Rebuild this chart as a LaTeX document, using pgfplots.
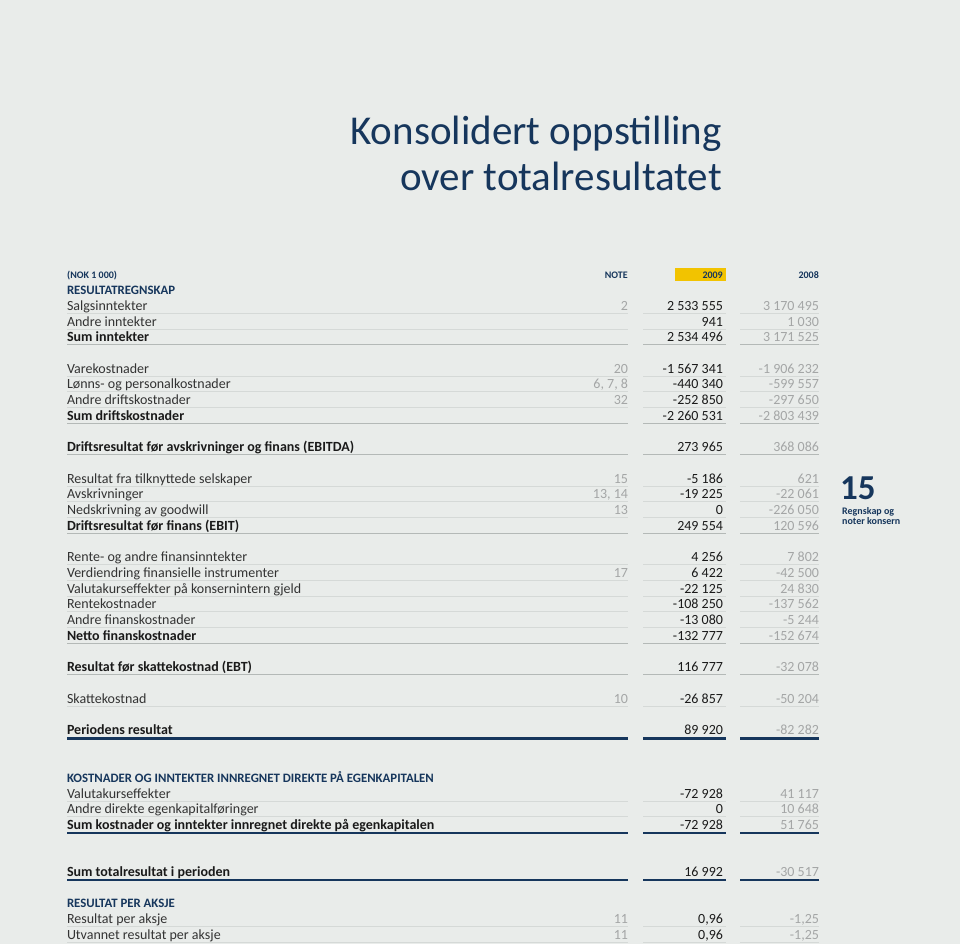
\documentclass[border=0pt]{standalone}
\usepackage{fontspec}
\setmainfont{Carlito}
\usepackage{pgfplots}
\usepackage{pgfplotstable}
\pgfplotsset{compat=1.18}
\definecolor{bg}{HTML}{E9ECEA}
\definecolor{navy}{HTML}{16365C}
\definecolor{txt}{HTML}{333333}
\definecolor{dk}{HTML}{1A1A1A}
\definecolor{lg}{HTML}{A4A6A6}
\definecolor{rulec}{HTML}{D5D9D7}
\definecolor{rule2}{HTML}{B4B9B7}
\definecolor{yel}{HTML}{F2C300}
\protected\def\sm{\color{dk}\bfseries\fontsize{14}{16}\selectfont}
\protected\def\hd{\color{navy}\bfseries\fontsize{12.8}{14}\selectfont}

\pgfplotstableread[col sep=semicolon]{
y;lab;note;a;b
294;\hd RESULTATREGNSKAP;;;
310;Salgsinntekter;2;2 533 555;3 170 495
326;Andre inntekter;;941;1 030
341;\sm Sum inntekter;;2 534 496;3 171 525
373;Varekostnader;20;-1 567 341;-1 906 232
388;Lønns- og personalkostnader;6, 7, 8;-440 340;-599 557
404;Andre driftskostnader;32;-252 850;-297 650
420;\sm Sum driftskostnader;;-2 260 531;-2 803 439
451;\sm Driftsresultat før avskrivninger og finans (EBITDA);;273 965;368 086
483;Resultat fra tilknyttede selskaper;15;-5 186;621
498;Avskrivninger;13, 14;-19 225;-22 061
514;Nedskrivning av goodwill;13;0;-226 050
530;\sm Driftsresultat før finans (EBIT);;249 554;120 596
561;Rente- og andre finansinntekter;;4 256;7 802
577;Verdiendring finansielle instrumenter;17;6 422;-42 500
593;Valutakurseffekter på konsernintern gjeld;;-22 125;24 830
608;Rentekostnader;;-108 250;-137 562
624;Andre finanskostnader;;-13 080;-5 244
640;\sm Netto finanskostnader;;-132 777;-152 674
671;\sm Resultat før skattekostnad (EBT);;116 777;-32 078
703;Skattekostnad;10;-26 857;-50 204
734;\sm Periodens resultat;;89 920;-82 282
782;\hd KOSTNADER OG INNTEKTER INNREGNET DIREKTE PÅ EGENKAPITALEN;;;
798;Valutakurseffekter;;-72 928;41 117
813;Andre direkte egenkapitalføringer;;0;10 648
829;\sm Sum kostnader og inntekter innregnet direkte på egenkapitalen;;-72 928;51 765
876;\sm Sum totalresultat i perioden;;16 992;-30 517
907;\hd RESULTAT PER AKSJE;;;
923;Resultat per aksje;11;0,96;-1,25
939;Utvannet resultat per aksje;11;0,96;-1,25
}\rows

\pgfplotsset{
  txtcol/.style 2 args={draw=none, mark=none, nodes near coords,
    point meta=explicit symbolic,
    every node near coord/.style={anchor=base #1, inner sep=0pt, outer sep=0pt,
      text=#2, font=\fontsize{14}{16}\selectfont}},
}

\begin{document}
\begin{tikzpicture}
\begin{axis}[
  scale only axis, width=960pt, height=944pt,
  xmin=0, xmax=960, ymin=0, ymax=944, y dir=reverse,
  hide axis, clip=false, unbounded coords=jump,
]
\fill[bg] (rel axis cs:0,0) rectangle (rel axis cs:1,1);

% title
\node[anchor=base east, inner sep=0pt, text=navy, font=\fontsize{41}{44}\selectfont] at (axis cs:722,145) {Konsolidert oppstilling};
\node[anchor=base east, inner sep=0pt, text=navy, font=\fontsize{41}{44}\selectfont] at (axis cs:722,190) {over totalresultatet};

% header row
\fill[yel] (axis cs:675,268) rectangle (axis cs:726,281);
\node[anchor=base west, inner sep=0pt, text=navy, font=\bfseries\fontsize{10}{12}\selectfont] at (axis cs:67,278) {(NOK 1 000)};
\node[anchor=base east, inner sep=0pt, text=navy, font=\bfseries\fontsize{10}{12}\selectfont] at (axis cs:628,278) {NOTE};
\node[anchor=base east, inner sep=0pt, text=navy, font=\bfseries\fontsize{10}{12}\selectfont] at (axis cs:723,278) {2009};
\node[anchor=base east, inner sep=0pt, text=navy, font=\bfseries\fontsize{10}{12}\selectfont] at (axis cs:819,278) {2008};

% side tab
\node[anchor=base west, inner sep=0pt, text=navy, font=\bfseries\fontsize{35}{36}\selectfont] at (axis cs:840,499) {15};
\node[anchor=base west, inner sep=0pt, text=navy, font=\bfseries\fontsize{10}{12}\selectfont] at (axis cs:842,514) {Regnskap og};
\node[anchor=base west, inner sep=0pt, text=navy, font=\bfseries\fontsize{10}{12}\selectfont] at (axis cs:842,524.5) {noter konsern};

% faint rules
\pgfplotsinvokeforeach{313.5,329.5,376.5,391.5,407.5,486.5,501.5,517.5,564.5,580.5,596.5,611.5,627.5,706.5,801.5,816.5,926.5,942.5}{
  \addplot[rulec, line width=0.6pt] coordinates {(67,#1)(628,#1)(nan,nan)(643,#1)(726,#1)(nan,nan)(740,#1)(819,#1)};
}
% sum rules
\pgfplotsinvokeforeach{344.5,423.5,454.5,533.5,643.5,674.5}{
  \addplot[rule2, line width=1.1pt] coordinates {(67,#1)(628,#1)(nan,nan)(643,#1)(726,#1)(nan,nan)(740,#1)(819,#1)};
}
% navy rules
\pgfplotsinvokeforeach{738.5,833,880}{
  \addplot[navy, line width=2.2pt] coordinates {(67,#1)(628,#1)(nan,nan)(643,#1)(726,#1)(nan,nan)(740,#1)(819,#1)};
}

% table text
\addplot[txtcol={west}{txt}] table[x expr=67, y=y, meta=lab] {\rows};
\addplot[txtcol={east}{lg}] table[x expr=628, y=y, meta=note] {\rows};
\addplot[txtcol={east}{dk}] table[x expr=723, y=y, meta=a] {\rows};
\addplot[txtcol={east}{lg}] table[x expr=819, y=y, meta=b] {\rows};
\end{axis}
\end{tikzpicture}
\end{document}
